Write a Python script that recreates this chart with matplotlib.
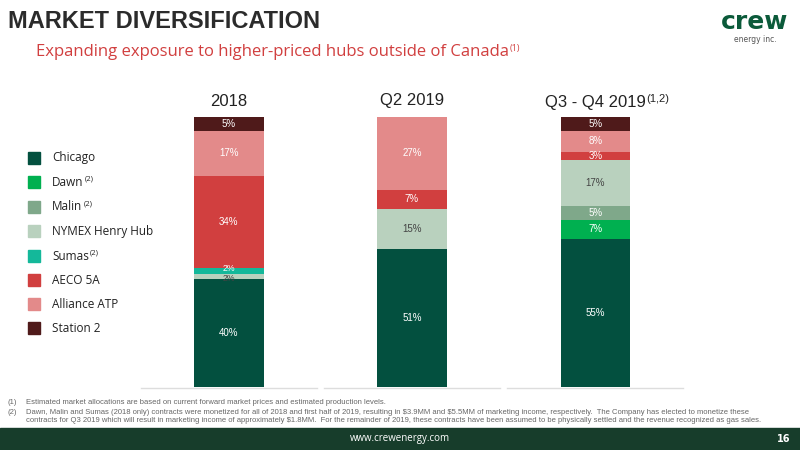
import matplotlib
matplotlib.use("Agg")
import matplotlib.pyplot as plt
from matplotlib.patches import Rectangle

periods = ["2018", "Q2 2019", "Q3 - Q4 2019"]
period_sup = ["", "", "(1,2)"]
hubs = ["Chicago", "Dawn", "Malin", "NYMEX Henry Hub", "Sumas", "AECO 5A", "Alliance ATP", "Station 2"]
hub_sup = ["", "(2)", "(2)", "", "(2)", "", "", ""]
values = {
    "Chicago":         [40, 51, 55],
    "Dawn":            [0, 0, 7],
    "Malin":           [0, 0, 5],
    "NYMEX Henry Hub": [2, 15, 17],
    "Sumas":           [2, 0, 0],
    "AECO 5A":         [34, 7, 3],
    "Alliance ATP":    [17, 27, 8],
    "Station 2":       [5, 0, 5],
}
colors = ["#03503F", "#00B050", "#7FA88A", "#B9D1BE", "#14B89A", "#D13F3F", "#E38A8A", "#4F1A1A"]
txtcol = ["white", "white", "white", "#444444", "white", "white", "white", "white"]
SANS = "Liberation Sans"

fig = plt.figure(figsize=(8, 4.5), dpi=100)
fig.patch.set_facecolor("white")
W, H = 800, 450
def fx(x): return x / W
def fy(y): return 1 - y / H
renderer = fig.canvas.get_renderer()

def sup_after(t, s, dy, size, color):
    bb = t.get_window_extent(renderer=renderer)
    fig.text(bb.x1 / W + 1 / W, t.get_position()[1] + dy / H, s, fontsize=size, color=color,
             va="center", family=t.get_fontfamily())

ax = fig.add_axes([fx(137), fy(387), 550 / W, 270 / H])
ax.set_xlim(-0.5, 2.5)
ax.set_ylim(0, 100)
ax.axis("off")
x = [0, 1, 2]
bottoms = [0, 0, 0]
for h, c, tc in zip(hubs, colors, txtcol):
    v = values[h]
    ax.bar(x, v, 0.38, bottom=bottoms, color=c, linewidth=0)
    for i in range(3):
        if v[i] > 0:
            yy = bottoms[i] + v[i] / 2
            if v[i] <= 2:
                yy += 0.9 if h == "Sumas" else -0.9
            ax.text(x[i], yy, f"{v[i]}%", ha="center", va="center",
                    color=tc, fontsize=6.3 if v[i] <= 2 else 7, family=SANS)
    bottoms = [b + vv for b, vv in zip(bottoms, v)]

for i in range(3):
    ax.plot([x[i] - 0.48, x[i] + 0.48], [-0.5, -0.5], color="#DDDDDD", lw=1, clip_on=False)
title_y = [101, 100, 102]
for i, (p, s) in enumerate(zip(periods, period_sup)):
    cx = 137 + 183.3 * (i + 0.5)
    t = fig.text(fx(cx), fy(title_y[i]), p, ha="center", va="center", fontsize=12, color="#222222", family=SANS)
    if s:
        sup_after(t, s, 3, 8, "#222222")

# header
fig.text(fx(8), fy(22), "MARKET DIVERSIFICATION", fontsize=17, fontweight="bold",
         color="#2B2B2B", va="center", family=SANS)
t = fig.text(fx(36), fy(52), "Expanding exposure to higher-priced hubs outside of Canada", fontsize=12,
             color="#D13F3F", va="center", family="Open Sans")
sup_after(t, "(1)", 3, 6.5, "#D13F3F")
fig.text(fx(755), fy(22), "crew", fontsize=18, fontweight="bold", color="#0B5A3A", ha="center", va="center")
fig.text(fx(755), fy(40), "energy inc.", fontsize=5.5, color="#555555", ha="center", va="center")

# legend
ys = [158, 182, 207, 231, 256, 280, 304, 328]
for h, s, c, yy in zip(hubs, hub_sup, colors, ys):
    fig.patches.append(Rectangle((fx(28), fy(yy + 6)), 12 / W, 12 / H, color=c, transform=fig.transFigure))
    t = fig.text(fx(52), fy(yy), h, fontsize=8.5, color="#222222", va="center", family="Open Sans")
    if s:
        sup_after(t, s, 3, 5.5, "#222222")

# footnotes
notes = [
    (403, "(1)", "Estimated market allocations are based on current forward market prices and estimated production levels."),
    (412, "(2)", "Dawn, Malin and Sumas (2018 only) contracts were monetized for all of 2018 and first half of 2019, resulting in \\$3.9MM and \\$5.5MM of marketing income, respectively.  The Company has elected to monetize these"),
    (421, "", "contracts for Q3 2019 which will result in marketing income of approximately \\$1.8MM.  For the remainder of 2019, these contracts have been assumed to be physically settled and the revenue recognized as gas sales."),
]
for yy, n, t in notes:
    if n:
        fig.text(fx(8), fy(yy), n, fontsize=5.5, color="#666666", va="center", family=SANS)
    fig.text(fx(26), fy(yy), t, fontsize=5.5, color="#666666", va="center", family=SANS)

# footer
fig.patches.append(Rectangle((0, 0), 1, 22 / H, color="#173D2B", transform=fig.transFigure))
fig.text(0.5, fy(439), "www.crewenergy.com", fontsize=7, color="white", ha="center", va="center", family="Open Sans")
fig.text(fx(790), fy(439), "16", fontsize=7, color="white", ha="right", va="center", fontweight="bold")

fig.savefig("out.png", dpi=100)
